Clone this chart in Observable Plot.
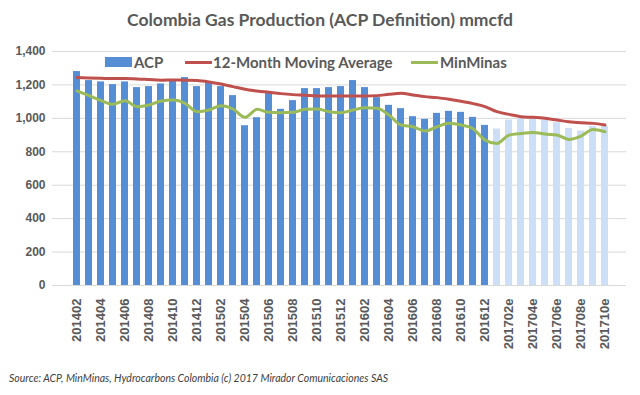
<!DOCTYPE html>
<html><head><meta charset="utf-8">
<script src="https://cdn.jsdelivr.net/npm/d3@7"></script>
<script src="https://cdn.jsdelivr.net/npm/@observablehq/plot@0.6"></script>
<style>
body{margin:0;background:#fff;width:640px;height:395px;overflow:hidden;}
#title{height:40px;box-sizing:border-box;padding-top:10px;text-align:center;font:bold 17.5px Lato,sans-serif;color:#595959;line-height:20px;}
#wrap{position:relative;height:320px;}
.leg{position:absolute;font:bold 15px Lato,sans-serif;color:#595959;white-space:nowrap;line-height:16px;}
.sw{position:absolute;}
#caption{height:35px;box-sizing:border-box;padding:11px 0 0 9px;font:italic 10.5px Lato,sans-serif;color:#404040;line-height:14px;}
g[aria-label="x-axis tick label"] text{font-size:13px;}
</style></head>
<body>
<div id="title">Colombia Gas Production (ACP Definition) mmcfd</div>
<div id="wrap">
  <div class="sw" style="left:105px;top:17px;width:27px;height:10px;background:#558ED5"></div>
  <div class="leg" style="left:134px;top:14px">ACP</div>
  <div class="sw" style="left:185px;top:21px;width:27px;height:3px;background:#C0504D"></div>
  <div class="leg" style="left:213px;top:14px">12-Month Moving Average</div>
  <div class="sw" style="left:411px;top:21px;width:27px;height:3px;background:#9BBB59"></div>
  <div class="leg" style="left:440px;top:14px">MinMinas</div>
</div>
<div id="caption">Source: ACP, MinMinas, Hydrocarbons Colombia (c) 2017 Mirador Comunicaciones SAS</div>
<script>
const months = ["201402","201403","201404","201405","201406","201407","201408","201409","201410","201411","201412",
  "201501","201502","201503","201504","201505","201506","201507","201508","201509","201510","201511","201512",
  "201601","201602","201603","201604","201605","201606","201607","201608","201609","201610","201611","201612",
  "201701e","201702e","201703e","201704e","201705e","201706e","201707e","201708e","201709e","201710e"];
const acp = [1280,1226,1218,1202,1218,1184,1190,1206,1224,1244,1190,
  1214,1190,1136,956,1004,1150,1054,1106,1178,1178,1184,1190,
  1226,1184,1124,1078,1058,1010,994,1030,1042,1036,1006,958,
  936,990,1000,1000,990,974,940,924,952,952];
const movingAvg = [1244,1242,1240,1238,1238,1236,1232,1228,1230,1228,1226,
  1218,1206,1190,1174,1164,1156,1148,1142,1138,1134,1134,1134,
  1134,1134,1136,1144,1150,1140,1130,1124,1114,1102,1088,1070,
  1040,1024,1010,1006,1000,990,980,974,970,960];
const minMinas = [1164,1136,1106,1084,1106,1070,1080,1104,1110,1090,1040,
  1050,1076,1056,1006,1054,1036,1034,1036,1054,1056,1040,1034,
  1050,1064,1060,1020,960,950,924,950,970,960,938,870,
  850,900,910,916,906,900,874,894,934,920];
const yTicks = [0,200,400,600,800,1000,1200,1400];
const xTicks = months.filter((d, i) => i % 2 === 0);

const data = months.map((m, i) => ({month: m, acp: acp[i], ma: movingAvg[i], mm: minMinas[i], est: m.endsWith("e")}));

const chart = Plot.plot({
  width: 640,
  height: 320,
  marginTop: 11,
  marginBottom: 75,
  marginLeft: 52,
  marginRight: 14,
  style: {fontFamily: "'Liberation Sans', Arial, sans-serif", fontSize: "12px", fontWeight: "bold", color: "#595959", background: "#fff"},
  x: {domain: months, paddingInner: 0.41, paddingOuter: 0.815, align: 0.55, ticks: xTicks, tickRotate: -90, tickSize: 0, tickPadding: 13, label: null},
  y: {domain: [0, 1400], ticks: yTicks, tickFormat: d3.format(","), tickSize: 0, tickPadding: 7, label: null},
  marks: [
    Plot.ruleY(yTicks, {stroke: "#d9d9d9", strokeWidth: 1}),
    Plot.barY(data.filter(d => !d.est), {x: "month", y: "acp", fill: "#558ED5"}),
    Plot.barY(data.filter(d => d.est), {x: "month", y: "acp", fill: "#CCDFF6"}),
    Plot.line(data, {x: "month", y: "ma", stroke: "#C0504D", strokeWidth: 3, curve: "monotone-x"}),
    Plot.line(data, {x: "month", y: "mm", stroke: "#9BBB59", strokeWidth: 3, curve: "monotone-x"})
  ]
});
document.getElementById("wrap").prepend(chart);
</script>
</body></html>
